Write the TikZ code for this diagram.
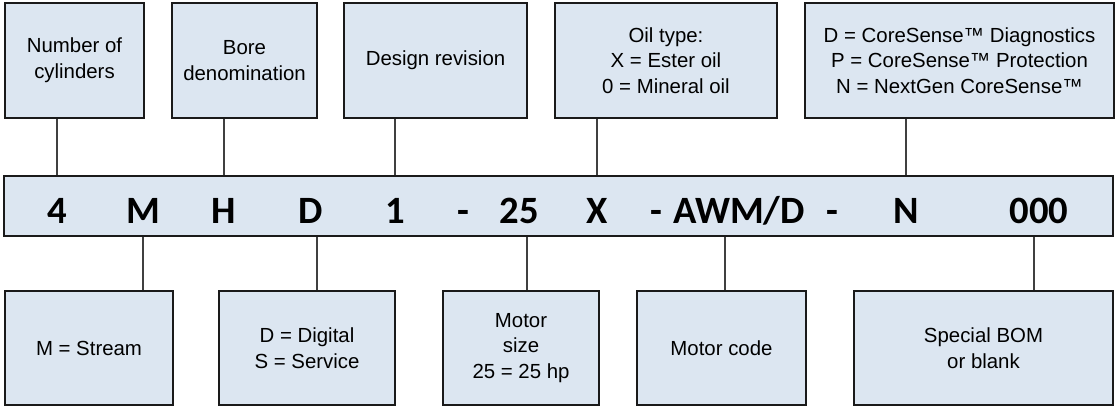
\documentclass[tikz,border=0pt]{standalone}
\usepackage{fontspec}
\setmainfont{Liberation Sans}
\newfontfamily\codefont{Carlito}
\usetikzlibrary{positioning}
\definecolor{boxfill}{HTML}{DCE6F1}
\definecolor{boxline}{HTML}{1A1A1A}
\definecolor{linkgray}{HTML}{404040}

\begin{document}
\begin{tikzpicture}[
    x=0.75pt, y=-0.75pt,
    font=\fontsize{15.3}{19.2}\selectfont,
    box/.style={
        draw=boxline,
        fill=boxfill,
        line width=1.5pt,
        align=center,
        inner sep=0pt,
        minimum height=#1
    },
    box/.default=86pt,
    codechar/.style={
        anchor=base,
        inner sep=0pt,
        font=\codefont\bfseries\fontsize{29}{29}\selectfont
    },
    link/.style={
        draw=linkgray,
        line width=0.8pt
    }
]
\useasboundingbox (0,0) rectangle (1116,408);

\node[box, minimum width=104.25pt] (ncyl) at (74.5,60.5) {Number of\\cylinders};
\node[box, minimum width=108.75pt] (nbore) at (244.5,60.5) {Bore\\denomination};
\node[box, minimum width=137.25pt] (nrev) at (435.5,60.5) {Design revision};
\node[box, minimum width=166.5pt] (noil) at (666,60.5) {Oil type:\\X = Ester oil\\0 = Mineral oil};
\node[box, minimum width=231.75pt] (nsense) at (959.5,60.5) {D = CoreSense™ Diagnostics\\P = CoreSense™ Protection\\N = NextGen CoreSense™};

\node[box=45pt, minimum width=831.75pt] (bar) at (558.5,206) {};
\node[codechar] (c4) at (57,223) {4};
\node[codechar] (cM) at (143,223) {M};
\node[codechar] (cH) at (224,223) {H};
\node[codechar] (cD) at (311,223) {D};
\node[codechar] (c1) at (395,223) {1};
\node[codechar] (cdasha) at (463,223) {-};
\node[codechar] (c25) at (519,223) {25};
\node[codechar] (cX) at (597,223) {X};
\node[codechar] (cdashb) at (656,223) {-};
\node[codechar] (cAWM) at (739,223) {AWM/D};
\node[codechar] (cdashc) at (832,223) {-};
\node[codechar] (cN) at (906,223) {N};
\node[codechar] (c000) at (1039,223) {000};

\node[box=85.5pt, minimum width=126pt] (bstream) at (89,348) {M = Stream};
\node[box=85.5pt, minimum width=132pt] (bdigital) at (307,348) {D = Digital\\S = Service};
\node[box=85.5pt, minimum width=117pt] (bmotor) at (521,348) {Motor\\size\\25 = 25 hp};
\node[box=85.5pt, minimum width=126.75pt] (bcode) at (721.5,348) {Motor code};
\node[box=85.5pt, minimum width=194.25pt] (bbom) at (983.5,348) {Special BOM\\or blank};

\coordinate (kD) at ([xshift=4.5pt]cD.base);
\coordinate (k25) at ([xshift=6pt]c25.base);
\coordinate (kAWM) at ([xshift=-10.5pt]cAWM.base);
\coordinate (k000) at ([xshift=-3.75pt]c000.base);

\draw[link] (ncyl.south -| c4) -- (bar.north -| c4);
\draw[link] (nbore.south -| cH) -- (bar.north -| cH);
\draw[link] (nrev.south -| c1) -- (bar.north -| c1);
\draw[link] (noil.south -| cX) -- (bar.north -| cX);
\draw[link] (nsense.south -| cN) -- (bar.north -| cN);

\draw[link] (bar.south -| cM) -- (bstream.north -| cM);
\draw[link] (bar.south -| kD) -- (bdigital.north -| kD);
\draw[link] (bar.south -| k25) -- (bmotor.north -| k25);
\draw[link] (bar.south -| kAWM) -- (bcode.north -| kAWM);
\draw[link] (bar.south -| k000) -- (bbom.north -| k000);

\end{tikzpicture}
\end{document}
